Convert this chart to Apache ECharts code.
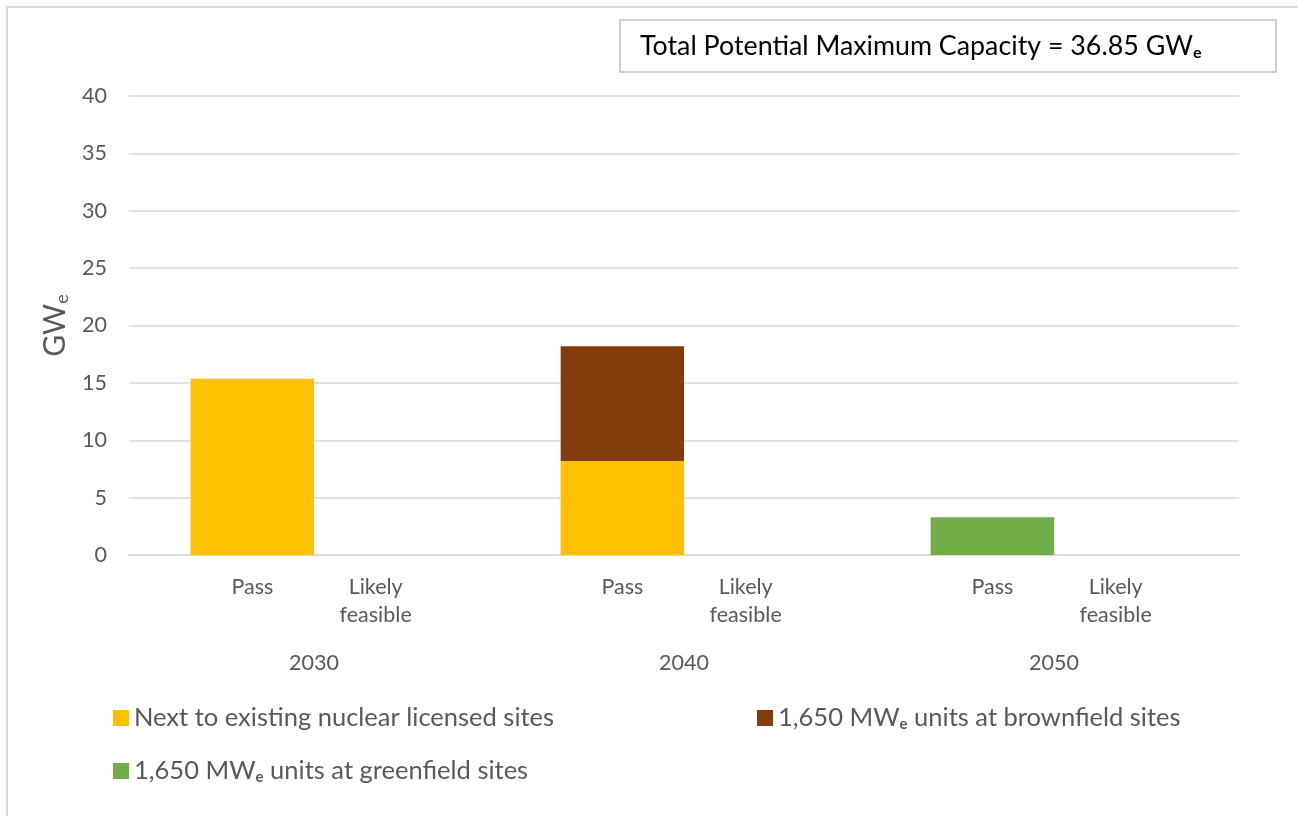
<!DOCTYPE html>
<html>
<head>
<meta charset="utf-8">
<script src="https://cdn.jsdelivr.net/npm/echarts@6/dist/echarts.min.js"></script>
<style>
  html, body { margin: 0; padding: 0; background: #fff; }
  #chart { width: 1298px; height: 816px; }
</style>
</head>
<body>
<div id="chart"></div>
<script>
// 数据
var years = ["2030", "2040", "2050"];
var stages = ["Pass", "Likely feasible"];
// 每个年份依次为 Pass, Likely feasible
var existingSites = [15.35, 0, 8.2, 0, 0, 0];
var brownfieldSites = [0, 0, 10.0, 0, 0, 0];
var greenfieldSites = [0, 0, 0, 0, 3.3, 0];
var seriesNames = [
  "Next to existing nuclear licensed sites",
  "1,650 MWe units at brownfield sites",
  "1,650 MWe units at greenfield sites"
];
var totalText = "Total Potential Maximum Capacity = 36.85 GWe";

var font = "Lato";
var grey = "#595959";

// 分隔位 + 每年两个类别
var slots = [""];
function toSlots(vals) {
  var out = [null];
  years.forEach(function (y, i) {
    stages.forEach(function (s, j) {
      out.push(vals[i * stages.length + j] || null);
    });
    out.push(null);
  });
  return out;
}
years.forEach(function () {
  stages.forEach(function (s) { slots.push(s); });
  slots.push("");
});
// 刻度位置（类别中心）
var tickSlots = [];
for (var k = 0; k < years.length * 3; k++) tickSlots.push(String(k));

function subE(name) {
  return name.replace("GWe", "GW{sub|e}").replace("MWe", "MW{sub|e}");
}

var chart = echarts.init(document.getElementById("chart"));
var legendBase = {
  icon: "rect",
  itemWidth: 16,
  itemHeight: 16,
  itemGap: 6,
  padding: 0,
  formatter: subE,
  textStyle: {
    fontFamily: font, fontSize: 25.5, color: grey,
    rich: { sub: { fontFamily: font, fontSize: 15, color: grey, fontWeight: "bold", padding: [12, 0, 0, 0] } }
  }
};

var option = {
  animation: false,
  title: {
    text: subE(totalText),
    left: 640,
    top: 32,
    padding: 0,
    textStyle: {
      fontFamily: font, fontSize: 26.8, fontWeight: "normal", color: "#000",
      rich: { sub: { fontFamily: font, fontSize: 16, fontWeight: "bold", color: "#000", padding: [13, 0, 0, 0] } }
    }
  },
  graphic: [
    { type: "rect", shape: { x: 7, y: 7, width: 1310, height: 830 }, style: { fill: "none", stroke: "#d9d9d9", lineWidth: 2 }, silent: true },
    { type: "rect", shape: { x: 620, y: 20, width: 656, height: 52 }, style: { fill: "none", stroke: "#bfbfbf", lineWidth: 1.5 }, silent: true }
  ],
  legend: [
    Object.assign({ data: [seriesNames[0]], left: 113, top: 705 }, legendBase),
    Object.assign({ data: [seriesNames[1]], left: 757, top: 705 }, legendBase),
    Object.assign({ data: [seriesNames[2]], left: 113, top: 758 }, legendBase)
  ],
  grid: { left: 129, right: 59, top: 96, bottom: 261 },
  xAxis: [
    {
      // 底部刻度线
      type: "category",
      data: tickSlots,
      position: "bottom",
      axisLine: { lineStyle: { color: "#d9d9d9", width: 1.5 } },
      axisTick: { alignWithLabel: true, length: 6, lineStyle: { color: "#d9d9d9", width: 1.5 } },
      axisLabel: { show: false }
    },
    {
      // 柱子与子类别标签
      type: "category",
      data: slots,
      position: "bottom",
      boundaryGap: false,
      axisLine: { show: false },
      axisTick: { show: false },
      axisLabel: {
        interval: 0, margin: 18,
        fontFamily: font, fontSize: 21.5, color: grey, lineHeight: 28,
        formatter: function (v) { return v.replace(" ", "\n"); }
      }
    },
    {
      // 顶部年份分隔线
      type: "category",
      data: years,
      position: "top",
      axisLine: { show: false },
      axisTick: { length: 7, lineStyle: { color: "#d9d9d9", width: 1.5 } },
      axisLabel: { show: false }
    },
    {
      // 年份标签
      type: "category",
      data: years,
      position: "bottom",
      axisLine: { show: false },
      axisTick: { show: false },
      axisLabel: { margin: 97, fontFamily: font, fontSize: 21.5, color: grey }
    }
  ],
  yAxis: {
    type: "value",
    min: 0,
    max: 40,
    interval: 5,
    name: "GW{sub|e}",
    nameLocation: "middle",
    nameRotate: 90,
    nameGap: 58,
    nameTextStyle: {
      fontFamily: font, fontSize: 30, color: grey,
      rich: { sub: { fontFamily: font, fontSize: 18, color: grey, padding: [14, 0, 0, 0] } }
    },
    axisLine: { show: false },
    axisTick: { show: false },
    axisLabel: { margin: 22, fontFamily: font, fontSize: 21.5, color: grey },
    splitLine: { lineStyle: { color: "#d9d9d9", width: 1.5 } }
  },
  series: [
    { name: seriesNames[0], type: "bar", stack: "total", xAxisIndex: 1, data: toSlots(existingSites), barWidth: "100%", itemStyle: { color: "#FFC000" } },
    { name: seriesNames[1], type: "bar", stack: "total", xAxisIndex: 1, data: toSlots(brownfieldSites), barWidth: "100%", itemStyle: { color: "#843C0C" } },
    { name: seriesNames[2], type: "bar", stack: "total", xAxisIndex: 1, data: toSlots(greenfieldSites), barWidth: "100%", itemStyle: { color: "#70AD47" } }
  ]
};
chart.setOption(option);
</script>
</body>
</html>
